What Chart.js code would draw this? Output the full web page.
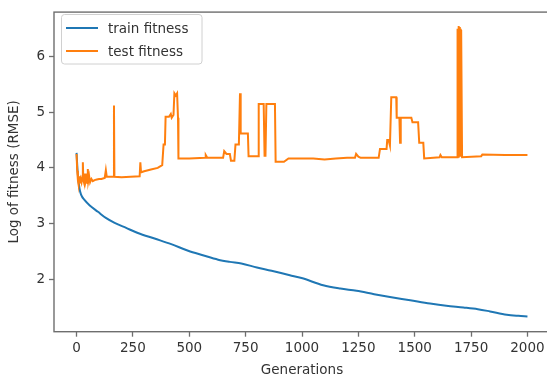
<!DOCTYPE html>
<html>
<head>
<meta charset="utf-8">
<title>Fitness over generations</title>
<script src="https://cdn.jsdelivr.net/npm/chart.js@4/dist/chart.umd.min.js"></script>
<style>
  html, body { margin: 0; padding: 0; background: #fff; overflow: hidden; }
  #wrap { position: absolute; left: 0; top: 0; width: 552px; height: 381px; }
</style>
</head>
<body>
<div id="wrap"><canvas id="fitChart" width="552" height="381"></canvas></div>
<script>
// train fitness (log RMSE) per generation
const trainGen = [0, 5, 13, 20, 36, 60, 95, 130, 169, 220, 272, 346, 420, 495, 560, 628, 680, 731, 800, 865, 946, 998, 1094, 1170, 1242, 1320, 1390, 1480, 1568, 1640, 1716, 1780, 1834, 1908, 1960, 2000];
const trainFitness = [4.27, 3.92, 3.63, 3.52, 3.42, 3.32, 3.21, 3.10, 3.01, 2.92, 2.83, 2.73, 2.63, 2.51, 2.43, 2.35, 2.31, 2.28, 2.21, 2.15, 2.07, 2.02, 1.89, 1.83, 1.79, 1.73, 1.68, 1.62, 1.56, 1.52, 1.49, 1.46, 1.42, 1.36, 1.34, 1.33];

// test fitness (log RMSE) per generation
const testGen = [
  0, 3, 6, 9, 12, 15, 18, 22, 26, 28, 30, 34, 38, 40, 44, 48, 50, 52, 56, 60, 66, 72, 80, 90, 100, 110, 125, 130, 134, 150, 164, 166, 168, 200, 240, 280, 283, 286, 300, 330, 360, 380, 386, 392, 395, 410, 418, 422, 430, 434, 440, 446, 450, 452,
  500, 570, 573, 580, 650, 655, 665, 680, 685, 700, 705, 720, 725, 728, 731, 760, 763, 805, 808, 830, 834, 838, 842, 880, 883, 920, 940, 1000, 1050, 1100, 1150, 1200, 1235, 1240, 1250, 1260, 1340, 1346, 1375, 1378, 1384, 1390, 1396, 1418, 1420, 1432, 1435, 1438, 1485, 1490, 1515, 1520, 1538, 1542,
  1610, 1614, 1620, 1688, 1690, 1692, 1694, 1696, 1698, 1700, 1702, 1704, 1706, 1710, 1795, 1800, 1900, 2000
];
const testFitness = [
  4.25, 3.95, 3.78, 3.70, 3.85, 3.72, 3.80, 3.74, 3.85, 4.10, 3.78, 3.72, 3.90, 3.75, 3.82, 3.73, 3.98, 3.76, 3.85, 3.74, 3.80, 3.76, 3.78, 3.79, 3.80, 3.80, 3.82, 3.96, 3.84, 3.84, 3.84, 5.12, 3.84, 3.83, 3.84, 3.85, 4.10, 3.92, 3.94, 3.97, 4.00, 4.05, 4.42, 4.42, 4.92, 4.92, 4.97, 4.90, 4.95, 5.34, 5.30, 5.34, 4.90, 4.17,
  4.17, 4.18, 4.23, 4.18, 4.18, 4.30, 4.25, 4.25, 4.13, 4.13, 4.42, 4.42, 5.34, 4.62, 4.62, 4.62, 4.21, 4.21, 5.15, 5.15, 4.22, 4.22, 5.15, 5.15, 4.11, 4.11, 4.17, 4.17, 4.17, 4.15, 4.17, 4.18, 4.18, 4.25, 4.20, 4.18, 4.18, 4.34, 4.34, 4.50, 4.50, 4.40, 5.27, 5.27, 4.90, 4.90, 4.45, 4.90, 4.90, 4.82, 4.82, 4.45, 4.45, 4.17,
  4.19, 4.23, 4.19, 4.19, 6.50, 4.20, 6.55, 4.20, 6.53, 4.20, 6.50, 4.20, 6.48, 4.19, 4.21, 4.24, 4.23, 4.23
];

const xTicks = [0, 250, 500, 750, 1000, 1250, 1500, 1750, 2000];
const yTicks = [2, 3, 4, 5, 6];

const toPoints = (xs, ys) => xs.map((x, i) => ({ x: x, y: ys[i] }));

const font = { family: 'DejaVu Sans', size: 13.5 };
const axisColor = '#6e6e6e';

// axes frame (all four spines)
const framePlugin = {
  id: 'frame',
  afterDraw(chart) {
    const a = chart.chartArea;
    const c = chart.ctx;
    c.save();
    c.strokeStyle = axisColor;
    c.lineWidth = 1.4;
    c.strokeRect(a.left, a.top, a.right - a.left, a.bottom - a.top);
    c.restore();
  }
};

// legend box in the upper left corner
const legendBox = {
  id: 'legendBox',
  afterDraw(chart) {
    const c = chart.ctx;
    c.save();
    c.fillStyle = 'rgba(255,255,255,0.85)';
    c.strokeStyle = '#d0d0d0';
    c.lineWidth = 1;
    c.beginPath();
    c.roundRect(61.5, 14.5, 140.5, 49.5, 3);
    c.fill();
    c.stroke();
    c.font = '13.5px "DejaVu Sans"';
    c.textBaseline = 'middle';
    chart.data.datasets.forEach((ds, i) => {
      const y = 28 + i * 23;
      c.strokeStyle = ds.borderColor;
      c.lineWidth = 2;
      c.beginPath();
      c.moveTo(66, y);
      c.lineTo(98, y);
      c.stroke();
      c.fillStyle = '#333';
      c.fillText(ds.label, 108, y + 1);
    });
    c.restore();
  }
};

const ctx = document.getElementById('fitChart').getContext('2d');
const fitChart = new Chart(ctx, {
  type: 'line',
  data: {
    datasets: [
      {
        label: 'train fitness',
        data: toPoints(trainGen, trainFitness),
        borderColor: '#1f77b4',
        borderWidth: 2,
        pointRadius: 0,
        cubicInterpolationMode: 'monotone',
        order: 1
      },
      {
        label: 'test fitness',
        data: toPoints(testGen, testFitness),
        borderColor: '#ff7f0e',
        borderWidth: 2,
        pointRadius: 0,
        tension: 0,
        order: 0
      }
    ]
  },
  options: {
    responsive: false,
    animation: false,
    layout: { padding: { top: 7.5, right: 2, left: 0, bottom: 0 } },
    plugins: {
      legend: { display: false },
      tooltip: { enabled: false }
    },
    scales: {
      x: {
        type: 'linear',
        min: -100,
        max: 2100,
        afterBuildTicks: (scale) => { scale.ticks = xTicks.map(v => ({ value: v })); },
        afterFit: (scale) => { scale.height = 49.3; },
        grid: { drawOnChartArea: false, tickLength: 5, tickColor: axisColor, tickWidth: 1.3 },
        border: { display: false },
        ticks: { color: '#333', font: font, padding: 4, maxRotation: 0, callback: (v) => String(v) },
        title: { display: true, text: 'Generations', color: '#333', font: font, padding: { top: 0, bottom: 2 } }
      },
      y: {
        min: 1.055,
        max: 6.80,
        afterBuildTicks: (scale) => { scale.ticks = yTicks.map(v => ({ value: v })); },
        afterFit: (scale) => { scale.width = 54; },
        grid: { drawOnChartArea: false, tickLength: 5, tickColor: axisColor, tickWidth: 1.3 },
        border: { display: false },
        ticks: { color: '#333', font: font, padding: 4, callback: (v) => String(v) },
        title: { display: true, text: 'Log of fitness (RMSE)', color: '#333', font: font, padding: { top: 6, bottom: 0 } }
      }
    }
  },
  plugins: [framePlugin, legendBox]
});
</script>
</body>
</html>
